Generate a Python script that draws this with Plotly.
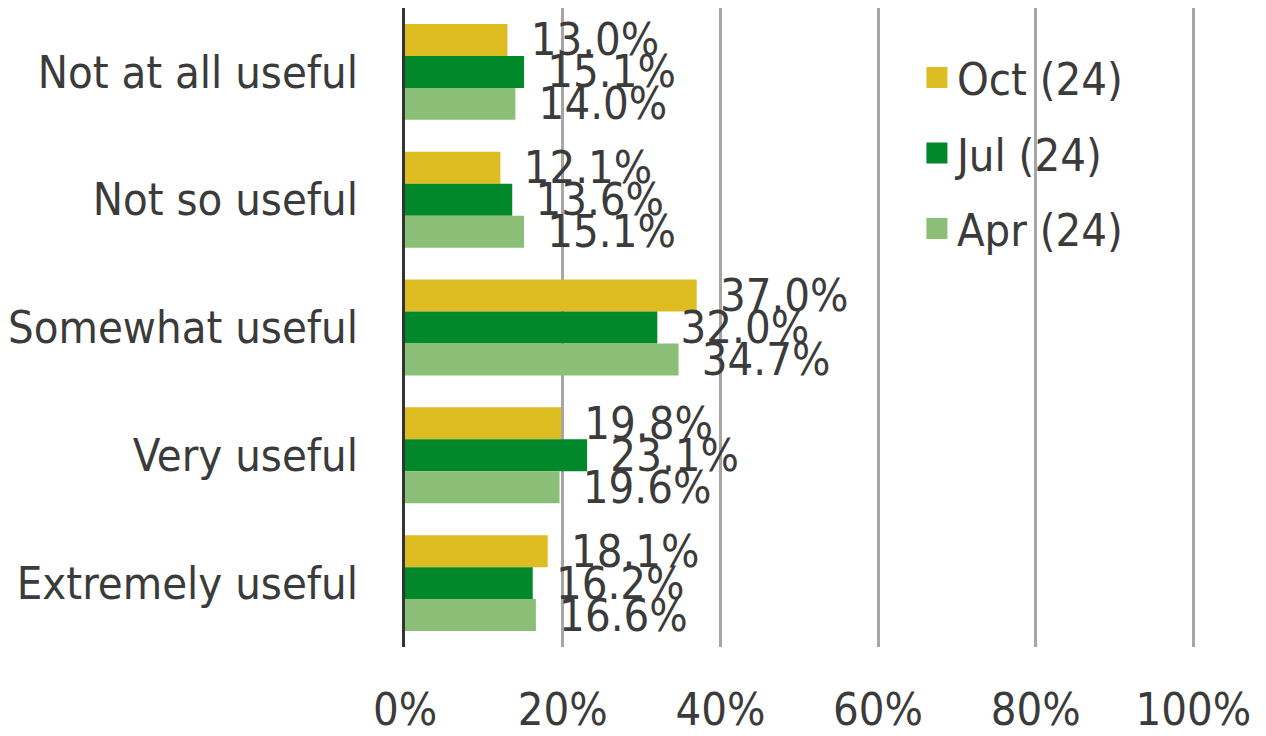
import plotly.graph_objects as go

categories = ["Not at all useful", "Not so useful", "Somewhat useful", "Very useful", "Extremely useful"]
oct_24 = [13.0, 12.1, 37.0, 19.8, 18.1]
jul_24 = [15.1, 13.6, 32.0, 23.1, 16.2]
apr_24 = [14.0, 15.1, 34.7, 19.6, 16.6]
tick_vals = [0, 20, 40, 60, 80, 100]
tick_text = ["0%", "20%", "40%", "60%", "80%", "100%"]

FONT = "DejaVu Sans Condensed, DejaVu Sans, sans-serif"
TXT = "#3b3b3b"
FS = 45

fig = go.Figure()
series = [("Oct (24)", oct_24, "#DEBD22"), ("Jul (24)", jul_24, "#00882B"), ("Apr (24)", apr_24, "#8BBF77")]
for name, vals, col in series:
    fig.add_trace(go.Bar(
        y=categories, x=vals, name=name, orientation="h",
        marker=dict(color=col, line=dict(width=0)),
        text=["\u2002" + f"{v:.1f}%" for v in vals], textposition="outside",
        constraintext="none",
        textfont=dict(size=FS, color=TXT, family=FONT),
        cliponaxis=False, showlegend=False,
    ))
for name, vals, col in series:
    fig.add_trace(go.Scatter(
        x=[None], y=[None], mode="markers", name=name,
        marker=dict(symbol="square", size=16, color=col, line=dict(color=col, width=5)),
        legendgroup=name, showlegend=True,
    ))

fig.update_layout(
    width=1258, height=728,
    margin=dict(l=395, r=71, t=0, b=86),
    paper_bgcolor="white", plot_bgcolor="white",
    barmode="group", bargap=0.25, bargroupgap=0,
    font=dict(family=FONT, color=TXT, size=FS),
    legend=dict(x=0.648, y=0.947, xanchor="left", yanchor="top",
                traceorder="grouped", tracegroupgap=14,
                font=dict(size=FS, color=TXT, family=FONT),
                itemwidth=30, bgcolor="rgba(0,0,0,0)"),
)
fig.update_xaxes(range=[0, 100.2], tickvals=tick_vals, ticktext=tick_text,
                 showgrid=True, gridcolor="#A6A6A6", gridwidth=3,
                 zeroline=False, showline=False, ticks="",
                 tickfont=dict(size=FS, color=TXT), ticklabelstandoff=32)
fig.update_yaxes(categoryorder="array", categoryarray=categories, autorange="reversed",
                 showline=True, linecolor="#333333", linewidth=3,
                 showgrid=False, ticks="", tickfont=dict(size=FS, color=TXT),
                 ticklabelstandoff=35)

fig.write_html("out.html")
